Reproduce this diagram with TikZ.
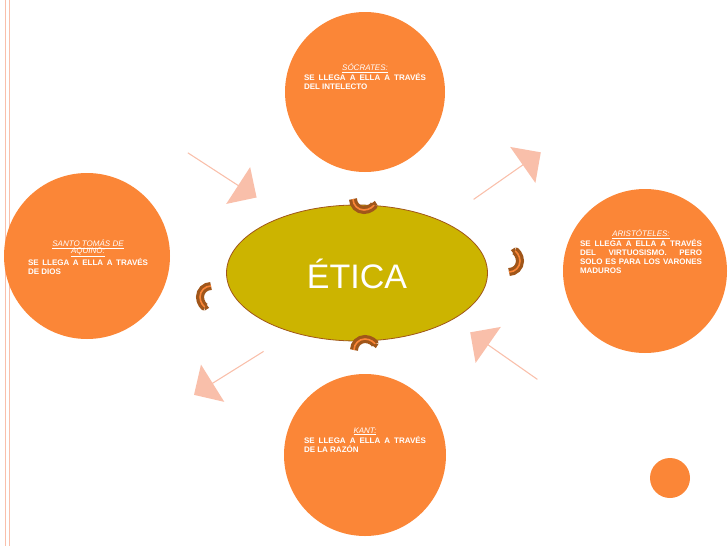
\documentclass[tikz,border=0pt]{standalone}
\usepackage{fontspec}
\setmainfont{Liberation Sans}
\usetikzlibrary{shapes.geometric,shapes.arrows,arrows.meta}
\definecolor{org}{HTML}{FB8637}
\definecolor{pinkar}{HTML}{F9BFAA}
\definecolor{olive}{HTML}{CCB400}
\definecolor{brn}{HTML}{A0561A}
\newcommand{\hd}[1]{\makebox[\linewidth][c]{\textit{\underline{#1}}}\par}
\begin{document}
\begin{tikzpicture}[x=1pt,y=-1pt,
 circ/.style={circle,fill=org,inner sep=0},
 txt/.style={text=white,font=\fontsize{8}{9}\selectfont,align=justify,text width=#1},
 bigar/.style={single arrow,fill=pinkar,minimum height=82pt,minimum width=44pt,single arrow head extend=8pt,inner sep=0},
 curl/.style={draw=brn,line width=3.2pt,double=org,double distance=1.6pt,-{Triangle[length=4pt,width=7pt]}}]
\useasboundingbox (0,0) rectangle (728,546);
\draw[pinkar,line width=1pt] (5,0)--(5,546) (9,0)--(9,546);
\node[circ,minimum size=160pt] (top) at (365,92) {};
\node[circ,minimum size=166pt] (left) at (87,256) {};
\node[circ,minimum size=164pt] (right) at (645,271) {};
\node[circ,minimum size=162pt] (bot) at (365,455) {};
\node[circ,minimum size=40pt] (sm) at (670,478) {};
\node[ellipse,fill=olive,draw=brn,line width=0.8pt,minimum width=261pt,minimum height=136pt] (etica) at (357,273) {};
\node[text=white,font=\fontsize{34}{36}\selectfont] at (357,274) {ÉTICA};
% texts
\node[txt=122pt,anchor=north] (ttop) at (365,60) {\hd{SÓCRATES:}\textbf{SE LLEGA A ELLA A TRAVÉS DEL INTELECTO}};
\node[txt=120pt,anchor=north] (tleft) at (88,236) {\hd{SANTO TOMÁS DE}\vspace{-2pt}\hd{AQUINO:}\textbf{SE LLEGA A ELLA A TRAVÉS DE DIOS}};
\node[txt=122pt,anchor=north] (tright) at (641,226) {\hd{ARISTÓTELES:}\textbf{SE LLEGA A ELLA A TRAVÉS DEL VIRTUOSISMO. PERO SOLO ES PARA LOS VARONES MADUROS}};
\node[txt=122pt,anchor=north] (tbot) at (365,424) {\hd{KANT:}\textbf{SE LLEGA A ELLA A TRAVÉS DE LA RAZÓN}};
% big arrows
\node[bigar,rotate=-33] (a1) at (222,175) {};
\node[bigar,rotate=35] (a2) at (507,176) {};
\node[bigar,rotate=145] (a3) at (504,356) {};
\node[bigar,rotate=-148] (a4) at (229,373) {};
% curls
\coordinate (c1s) at (353,199);
\draw[curl] (c1s) arc[start angle=180,end angle=10,radius=11];
\coordinate (c2s) at (509,272);
\draw[curl] (c2s) arc[start angle=90,end angle=-80,radius=11];
\coordinate (c3s) at (354,350);
\draw[curl] (c3s) arc[start angle=180,end angle=350,radius=11];
\coordinate (c4s) at (211,286);
\draw[curl] (c4s) arc[start angle=-90,end angle=-260,radius=11];
\end{tikzpicture}
\end{document}
